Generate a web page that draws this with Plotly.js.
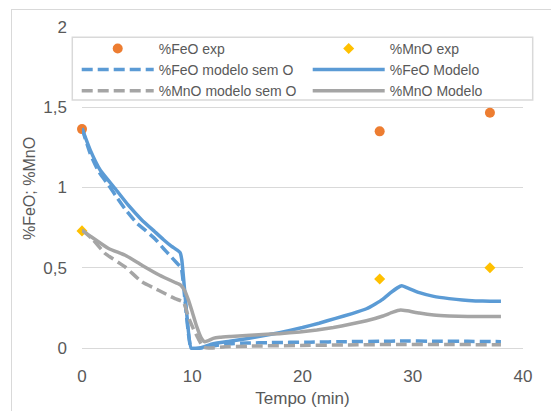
<!DOCTYPE html>
<html><head><meta charset="utf-8">
<script src="https://cdn.plot.ly/plotly-3.0.1.min.js"></script>
<style>
html,body{margin:0;padding:0;background:#fff;}
body{width:551px;height:411px;overflow:hidden;position:relative;}
#frame{position:absolute;left:11px;top:9px;width:620px;height:520px;border:1px solid #d9d9d9;}
#chart{position:absolute;left:0;top:0;width:551px;height:411px;}
</style></head><body>
<div id="frame"></div><div id="chart"></div>
<script>
// ---- data ----
const expTime = [0, 27, 37];
const feoExp = [1.364, 1.35, 1.466];
const mnoExp = [0.73, 0.43, 0.50];

const feoSemTime = [0, 0.75, 1.5, 2.41, 3.2, 3.92, 5.0, 5.8, 6.63, 7.39, 8.0, 8.6, 9.0, 9.9, 10.7, 12, 13.4, 15, 17, 20.7, 24, 27, 29, 32, 35, 38];
const feoSem = [1.369, 1.21, 1.10, 1.015, 0.935, 0.865, 0.776, 0.73, 0.68, 0.62, 0.575, 0.53, 0.50, 0, 0, 0.015, 0.027, 0.031, 0.034, 0.037, 0.04, 0.042, 0.044, 0.043, 0.042, 0.04];

const feoModTime = [0, 0.75, 1.66, 3.0, 4.2, 5.4, 6.6, 7.4, 8.1, 8.6, 8.9, 9.05, 9.5, 9.9, 10.7, 11.9, 13.4, 14.9, 16.4, 17.9, 20, 21.5, 23, 24.5, 25.8, 26.6, 27.3, 28.0, 28.6, 29.0, 29.5, 30.6, 31.9, 33.3, 34.5, 35.7, 37, 38];
const feoMod = [1.369, 1.233, 1.108, 0.994, 0.89, 0.80, 0.725, 0.675, 0.635, 0.612, 0.595, 0.55, 0.214, 0, 0, 0.027, 0.042, 0.058, 0.076, 0.096, 0.128, 0.155, 0.185, 0.215, 0.245, 0.275, 0.305, 0.345, 0.375, 0.388, 0.375, 0.345, 0.322, 0.308, 0.299, 0.294, 0.292, 0.292];

const mnoSemTime = [0, 0.9, 2.1, 3.92, 5.43, 6.94, 8.44, 9.2, 9.65, 10.1, 10.55, 11.0, 11.5, 13, 15, 20.7, 25, 29, 33, 38];
const mnoSem = [0.735, 0.682, 0.589, 0.505, 0.412, 0.36, 0.308, 0.287, 0.193, 0.12, 0.058, 0.006, 0, 0.008, 0.012, 0.017, 0.02, 0.023, 0.022, 0.021];

const mnoModTime = [0, 0.9, 2.41, 3.92, 5.43, 7.0, 8.4, 8.9, 9.3, 9.65, 10.0, 10.4, 10.8, 11.1, 11.4, 11.9, 12.5, 13.5, 14.9, 16.4, 17.9, 19.75, 21.3, 22.8, 24.3, 25.8, 27.3, 28.2, 28.9, 29.5, 30.6, 31.9, 33.3, 35, 36.5, 38];
const mnoMod = [0.735, 0.69, 0.62, 0.578, 0.516, 0.455, 0.41, 0.395, 0.36, 0.30, 0.225, 0.135, 0.065, 0.04, 0.045, 0.06, 0.067, 0.072, 0.078, 0.084, 0.09, 0.10, 0.112, 0.128, 0.148, 0.17, 0.2, 0.224, 0.237, 0.232, 0.218, 0.206, 0.2, 0.197, 0.196, 0.197];

const names = ['%FeO exp', '%MnO exp', '%FeO modelo sem O', '%FeO Modelo', '%MnO modelo sem O', '%MnO Modelo'];

const BLUE = '#5B9BD5', GRAY = '#A5A5A5', ORANGE = '#ED7D31', GOLD = '#FFC000';
const DASH = '11px,5px';

const traces = [
  {x: expTime, y: feoExp, name: names[0], mode: 'markers', type: 'scatter', legend: 'legend',
   marker: {symbol: 'circle', size: 10, color: ORANGE}, cliponaxis: false},
  {x: expTime, y: mnoExp, name: names[1], mode: 'markers', type: 'scatter', legend: 'legend2',
   marker: {symbol: 'diamond', size: 8.5, color: GOLD}, cliponaxis: false},
  {x: feoSemTime, y: feoSem, name: names[2], mode: 'lines', type: 'scatter', legend: 'legend',
   line: {color: BLUE, width: 3.5, dash: DASH, shape: 'spline', smoothing: 0.4}},
  {x: feoModTime, y: feoMod, name: names[3], mode: 'lines', type: 'scatter', legend: 'legend2',
   line: {color: BLUE, width: 3.5, shape: 'spline', smoothing: 0.4}},
  {x: mnoSemTime, y: mnoSem, name: names[4], mode: 'lines', type: 'scatter', legend: 'legend',
   line: {color: GRAY, width: 3.5, dash: DASH, shape: 'spline', smoothing: 0.4}},
  {x: mnoModTime, y: mnoMod, name: names[5], mode: 'lines', type: 'scatter', legend: 'legend2',
   line: {color: GRAY, width: 3.5, shape: 'spline', smoothing: 0.4}}
];

const FONT = '"Liberation Sans", Arial, sans-serif';
const TXT = '#595959';
const legendBase = {
  orientation: 'v', xanchor: 'left', yanchor: 'top', y: 0.982,
  itemwidth: 72, bgcolor: 'rgba(0,0,0,0)', borderwidth: 0,
  font: {family: FONT, size: 14, color: TXT}, tracegroupgap: 0
};

const layout = {
  width: 551, height: 411,
  margin: {l: 82, r: 28, t: 27, b: 61, autoexpand: false},
  paper_bgcolor: 'rgba(0,0,0,0)', plot_bgcolor: 'rgba(0,0,0,0)',
  separators: ', ',
  font: {family: FONT, color: TXT, size: 17},
  showlegend: true,
  xaxis: {
    range: [0, 40], dtick: 10, tick0: 0, showgrid: false, zeroline: false, showline: false,
    ticks: '', ticklabelstandoff: 14, tickfont: {family: FONT, size: 17, color: TXT},
    title: {text: 'Tempo (min)', font: {family: FONT, size: 17, color: TXT}, standoff: 7}
  },
  yaxis: {
    range: [-0.012, 2], dtick: 0.5, tick0: 0, showgrid: true, gridcolor: '#d9d9d9', gridwidth: 1,
    zeroline: false, showline: false, ticks: '', ticklabelstandoff: 14,
    tickfont: {family: FONT, size: 17, color: TXT},
    title: {text: '%FeO; %MnO', font: {family: FONT, size: 16, color: TXT}, standoff: 3}
  },
  legend: Object.assign({}, legendBase, {x: -0.012}),
  legend2: Object.assign({}, legendBase, {x: 0.5118}),
  shapes: [{type: 'rect', xref: 'paper', yref: 'paper', x0: -0.022, x1: 1.022, y0: 0.774, y1: 0.968,
            line: {color: '#d9d9d9', width: 1.5}, fillcolor: 'rgba(0,0,0,0)'}]
};

Plotly.newPlot('chart', traces, layout, {staticPlot: true});
</script></body></html>
